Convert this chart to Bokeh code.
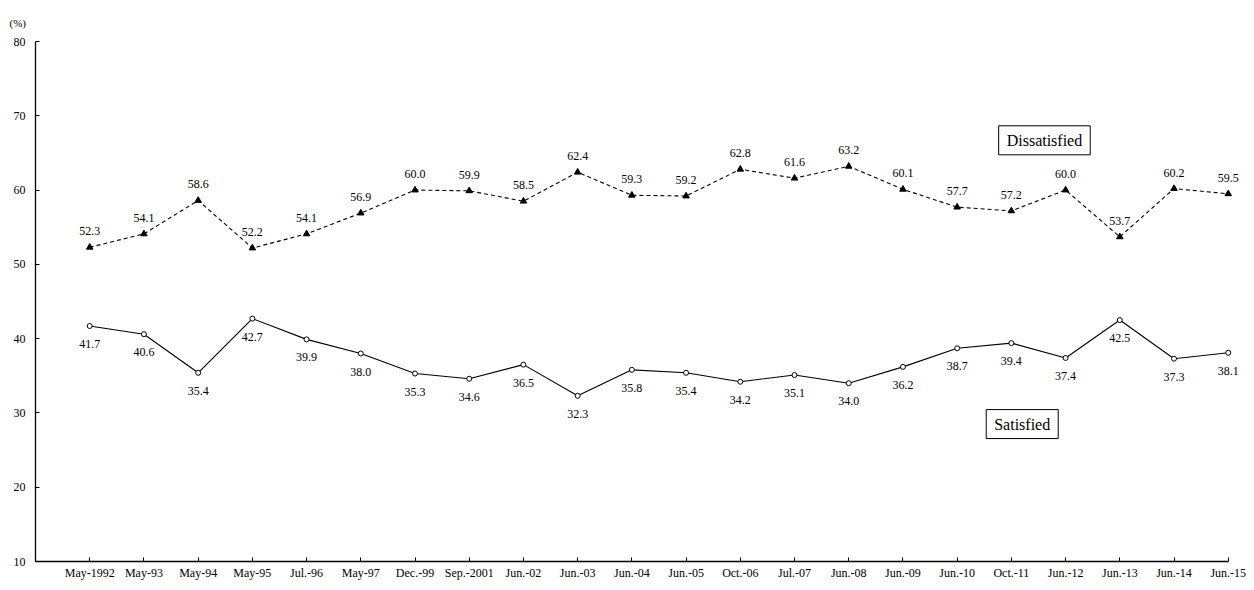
from bokeh.plotting import figure
from bokeh.models import Range1d, FixedTicker, Label, ColumnDataSource, Title
from bokeh.embed import file_html
from bokeh.resources import INLINE
from bokeh.core.properties import value

categories = ["May-1992", "May-93", "May-94", "May-95", "Jul.-96", "May-97", "Dec.-99",
              "Sep.-2001", "Jun.-02", "Jun.-03", "Jun.-04", "Jun.-05", "Oct.-06", "Jul.-07",
              "Jun.-08", "Jun.-09", "Jun.-10", "Oct.-11", "Jun.-12", "Jun.-13", "Jun.-14", "Jun.-15"]
dissatisfied = [52.3, 54.1, 58.6, 52.2, 54.1, 56.9, 60.0, 59.9, 58.5, 62.4, 59.3, 59.2,
                62.8, 61.6, 63.2, 60.1, 57.7, 57.2, 60.0, 53.7, 60.2, 59.5]
satisfied = [41.7, 40.6, 35.4, 42.7, 39.9, 38.0, 35.3, 34.6, 36.5, 32.3, 35.8, 35.4,
             34.2, 35.1, 34.0, 36.2, 38.7, 39.4, 37.4, 42.5, 37.3, 38.1]
y_ticks = [10, 20, 30, 40, 50, 60, 70, 80]

FONT = "Liberation Serif"
n = len(categories)
xs = list(range(n))
src = ColumnDataSource(dict(
    x=xs, d=dissatisfied, s=satisfied,
    dl=[f"{v:.1f}" for v in dissatisfied],
    sl=[f"{v:.1f}" for v in satisfied],
))

p = figure(width=1246, height=582, output_backend="svg", toolbar_location=None,
           x_range=Range1d(-1, n - 1 + 0.3), y_range=Range1d(10, 80),
           min_border_left=35, min_border_right=2, min_border_top=41, min_border_bottom=17)
p.outline_line_color = None
p.xgrid.grid_line_color = None
p.ygrid.grid_line_color = None
p.background_fill_color = "white"
p.border_fill_color = "white"

# unit label above the axis
p.add_layout(Title(text="(%)", align="left", offset=-26, standoff=26,
                   text_font=FONT, text_font_size="11px", text_font_style="normal",
                   text_color="black"), "above")

# axes
p.yaxis.ticker = FixedTicker(ticks=y_ticks)
p.xaxis.ticker = FixedTicker(ticks=xs)
p.xaxis.bounds = (-1, n - 1)
p.xaxis.major_label_overrides = {i: c for i, c in enumerate(categories)}
for ax in (p.xaxis[0], p.yaxis[0]):
    ax.axis_line_color = "black"
    ax.axis_line_width = 1.3
    ax.major_tick_in = 4
    ax.major_tick_out = 0
    ax.major_tick_line_color = "black"
    ax.minor_tick_line_color = None
    ax.major_label_text_font = FONT
    ax.major_label_text_font_size = "12px"
    ax.major_label_text_color = "black"
p.yaxis.major_label_standoff = 10
p.xaxis.major_label_standoff = 4

# dissatisfied
p.line("x", "d", source=src, line_color="black", line_width=1.1, line_dash="4 3")
p.scatter("x", "d", source=src, marker="triangle", size=6.5, fill_color="black", line_color="black")
p.text("x", "d", text="dl", source=src, text_font=value(FONT), text_font_size="12px",
       text_align="center", text_baseline="middle", y_offset=-16, text_color="black")

# satisfied
p.line("x", "s", source=src, line_color="black", line_width=1.1)
p.scatter("x", "s", source=src, marker="circle", size=5, fill_color="white", line_color="black")
p.text("x", "s", text="sl", source=src, text_font=value(FONT), text_font_size="12px",
       text_align="center", text_baseline="middle", y_offset=18, text_color="black")

# boxed series names
for txt, xv, yv in [("Dissatisfied", 17.61, 66.7), ("Satisfied", 17.2, 28.5)]:
    p.add_layout(Label(x=xv, y=yv, text=txt, text_font=FONT, text_font_size="16px",
                       text_align="center", text_baseline="middle", text_color="black",
                       border_line_color="black", border_line_width=1,
                       background_fill_color="white", padding=(8, 6)))

open("out.html", "w").write(file_html(p, INLINE))
